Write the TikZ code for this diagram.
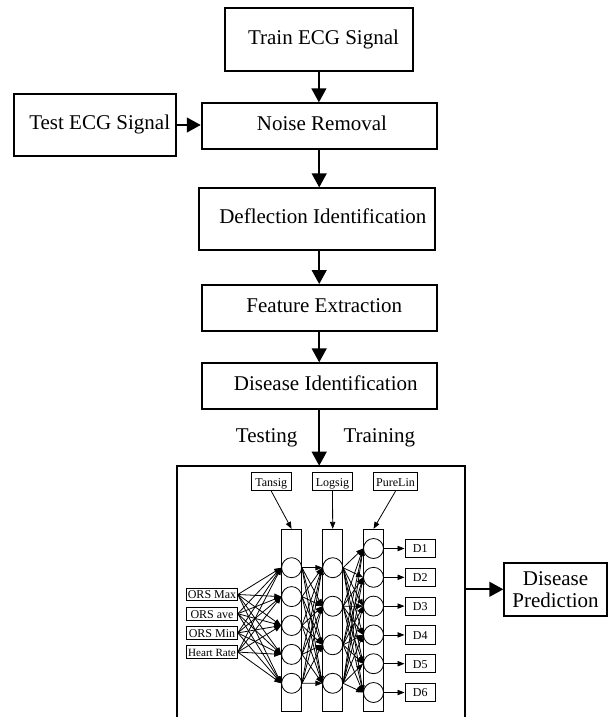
\documentclass[tikz,border=0pt]{standalone}
\usepackage{fontspec}
\setmainfont{Liberation Serif}
\usetikzlibrary{arrows.meta}
\begin{document}
\begin{tikzpicture}[x=0.75pt,y=-0.75pt,
  box/.style={draw, line width=1.4pt, inner sep=0pt, rectangle},
  mtxt/.style={inner sep=0pt, font=\fontsize{15.75}{16.3}\selectfont, text height=0.66em, text depth=0pt},
  bigarrow/.style={line width=1.7pt, -{Triangle[length=10.5pt,width=11pt]}},
  sbox/.style={draw, line width=0.7pt, inner sep=0pt, font=\fontsize{9}{10}\selectfont, text height=0.66em, text depth=0pt},
  colbox/.style={draw, line width=0.7pt, minimum width=15.15pt, minimum height=136.8pt, inner sep=0pt},
  neur/.style={draw, circle, line width=0.6pt, minimum size=15pt, inner sep=0pt},
  sarrow/.style={line width=0.6pt, -{Triangle[length=5.2pt,width=4pt]}}
]
\useasboundingbox (0,0) rectangle (608,717);

% main flow boxes
\node[box, minimum width=140.8pt, minimum height=47pt] (train) at (318.9,39.7) {};
\node[mtxt] (trainT) at (323.5,39.7) {Train ECG Signal};
\node[box, minimum width=176.25pt, minimum height=34.5pt] (noise) at (319.2,126.3) {};
\node[mtxt] (noiseT) at (322,126.3) {Noise Removal};
\node[box, minimum width=121.3pt, minimum height=46.5pt] (test) at (94.9,125) {};
\node[mtxt] (testT) at (99.7,125) {Test ECG Signal};
\node[box, minimum width=177pt, minimum height=46.3pt] (defl) at (317,219.2) {};
\node[mtxt] (deflT) at (322.8,219.2) {Deflection Identification};
\node[box, minimum width=176.25pt, minimum height=34.5pt] (feat) at (319.2,308) {};
\node[mtxt] (featT) at (324.3,308) {Feature Extraction};
\node[box, minimum width=176.25pt, minimum height=34.5pt] (disid) at (319.2,386.3) {};
\node[mtxt] (disidT) at (325.8,386.3) {Disease Identification};

\node[mtxt] (testing) at (266.7,437.7) {Testing};
\node[mtxt] (training) at (379.3,437.7) {Training};

% network frame (bottom edge lies at the page border)
\node[inner sep=0pt, minimum width=215.8pt, minimum height=188.25pt] (net) at (321.15,591.5) {};
\draw[line width=1.5pt] (net.south west) -- (net.north west) -- (net.north east) -- (net.south east);

\node[box, minimum width=76.8pt, minimum height=40pt, align=center, font=\fontsize{15.75}{16.3}\selectfont] (pred) at (555.5,589.3) {Disease\\Prediction};

% main arrows
\draw[bigarrow] (train.south) -- (train.south |- noise.north);
\draw[bigarrow] (test.east) -- (test.east -| noise.west);
\draw[bigarrow] (noise.south) -- (noise.south |- defl.north);
\draw[bigarrow] (feat.north |- defl.south) -- (feat.north);
\draw[bigarrow] (feat.south) -- (disid.north);
\draw[bigarrow] (disid.south) -- (disid.south |- net.north);
\draw[bigarrow] (pred.west -| net.east) -- (pred.west);

% transfer function boxes
\node[sbox, minimum width=30.5pt, minimum height=13.5pt] (tansig) at (271.3,481.7) {Tansig};
\node[sbox, minimum width=30.3pt, minimum height=13.5pt] (logsig) at (332.5,481.7) {Logsig};
\node[sbox, minimum width=33.3pt, minimum height=13.5pt] (purelin) at (395.5,481.7) {PureLin};

% layer columns
\node[colbox] (col1) at (291.6,620.5) {};
\node[colbox] (col2) at (332.7,620.5) {};
\node[colbox] (col3) at (373.5,620.5) {};

\draw[sarrow] (tansig.south) -- (col1.north);
\draw[sarrow] (logsig.south) -- (col2.north);
\draw[sarrow] (purelin.south) -- (col3.north);

% neurons
\foreach \k in {1,...,5} \node[neur] (a\k) at (291.6,{567.7+28.9*(\k-1)}) {};
\foreach \k in {1,...,4} \node[neur] (b\k) at (332.7,{567.7+38.53*(\k-1)}) {};
\foreach \k in {1,...,6} \node[neur] (c\k) at (373.5,{548.5+28.8*(\k-1)}) {};

% inputs
\node[sbox, minimum width=38pt, minimum height=9.4pt] (in1) at (212,594.5) {ORS Max};
\node[sbox, minimum width=38pt, minimum height=9.4pt] (in2) at (212,613.7) {ORS ave};
\node[sbox, minimum width=38pt, minimum height=9.4pt] (in3) at (212,632.9) {ORS Min};
\node[sbox, minimum width=38pt, minimum height=9.4pt, font=\fontsize{8.3}{9}\selectfont] (in4) at (212,652.1) {Heart Rate};

% outputs
\foreach \k in {1,...,6} \node[sbox, minimum width=23pt, minimum height=13.7pt] (d\k) at (420.3,{548.5+28.8*(\k-1)}) {D\k};

% connections
\foreach \i in {1,...,4} \foreach \j in {1,...,5} \draw[sarrow] (in\i.east) -- (a\j.west);
\foreach \i in {1,...,5} \foreach \j in {1,...,4} \draw[sarrow] (a\i.east) -- (b\j.west);
\foreach \i in {1,...,4} \foreach \j in {1,...,6} \draw[sarrow] (b\i.east) -- (c\j.west);
\foreach \k in {1,...,6} \draw[sarrow] (c\k.east) -- (d\k.west);
\end{tikzpicture}
\end{document}
